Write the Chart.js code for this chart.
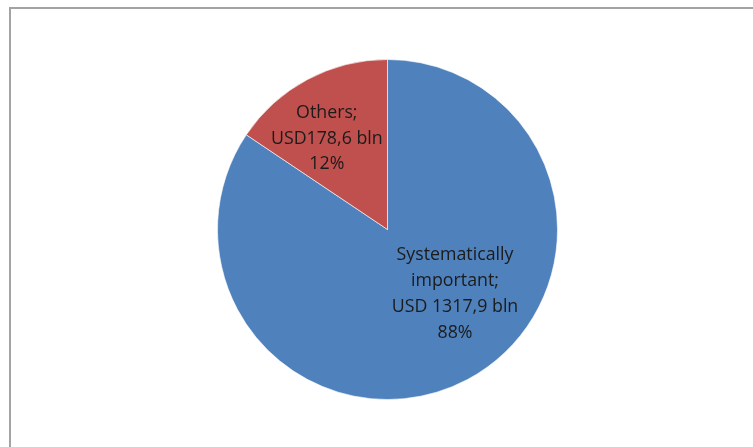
<!DOCTYPE html>
<html>
<head>
<meta charset="utf-8">
<script src="https://cdn.jsdelivr.net/npm/chart.js@4"></script>
<style>
  html, body { margin: 0; padding: 0; background: #fff; overflow: hidden; }
  #frame {
    position: absolute; left: 9px; top: 7px; width: 760px; height: 460px;
    border: 2px solid #a3a3a3; box-sizing: border-box;
  }
  #wrap { position: absolute; left: 0; top: 0; width: 753px; height: 447px; }
</style>
</head>
<body>
<div id="frame"></div>
<div id="wrap"><canvas id="pieChart"></canvas></div>
<script>
// slice data
const categories = ['Systematically important', 'Others'];
// share of the circle each slice takes in the picture (%)
const sliceShares = [84.4, 15.6];
const amountLabels = ['USD 1317,9 bln', 'USD178,6 bln'];
const percentLabels = ['88%', '12%'];
const sliceColors = ['#4f81bd', '#c0504d'];

// where each label block sits, relative to the pie centre, in radii
const labelOffsets = [[0.397, 0.379], [-0.357, -0.535]];

const pieLabels = {
    id: 'pieLabels',
    afterDatasetsDraw(chart) {
        const ctx = chart.ctx;
        const arcs = chart.getDatasetMeta(0).data;
        ctx.save();
        ctx.fillStyle = '#1b1b1b';
        ctx.font = '17.8px "Open Sans"';
        ctx.textAlign = 'center';
        ctx.textBaseline = 'middle';
        arcs.forEach((arc, i) => {
            const r = arc.outerRadius;
            const cx = arc.x + labelOffsets[i][0] * r;
            const cy = arc.y + labelOffsets[i][1] * r;
            let lines;
            if (i === 0) {
                lines = ['Systematically', 'important;', amountLabels[i], percentLabels[i]];
            } else {
                lines = [categories[i] + ';', amountLabels[i], percentLabels[i]];
            }
            const lh = 25.8;
            const y0 = cy - (lines.length - 1) * lh / 2;
            lines.forEach((t, j) => ctx.fillText(t, cx, y0 + j * lh));
        });
        ctx.restore();
    }
};

const ctxPie = document.getElementById('pieChart').getContext('2d');
let pieChart = new Chart(ctxPie, {
    type: 'pie',
    data: {
        labels: categories,
        datasets: [{
            data: sliceShares,
            backgroundColor: sliceColors,
            borderColor: 'rgba(255,255,255,0.6)',
            borderWidth: 1,
        }]
    },
    options: {
        responsive: true,
        maintainAspectRatio: false,
        animation: false,
        layout: {
            padding: { left: 217, right: 195, top: 59, bottom: 47 }
        },
        plugins: {
            legend: { display: false },
            tooltip: { enabled: false }
        }
    },
    plugins: [pieLabels]
});
</script>
</body>
</html>
